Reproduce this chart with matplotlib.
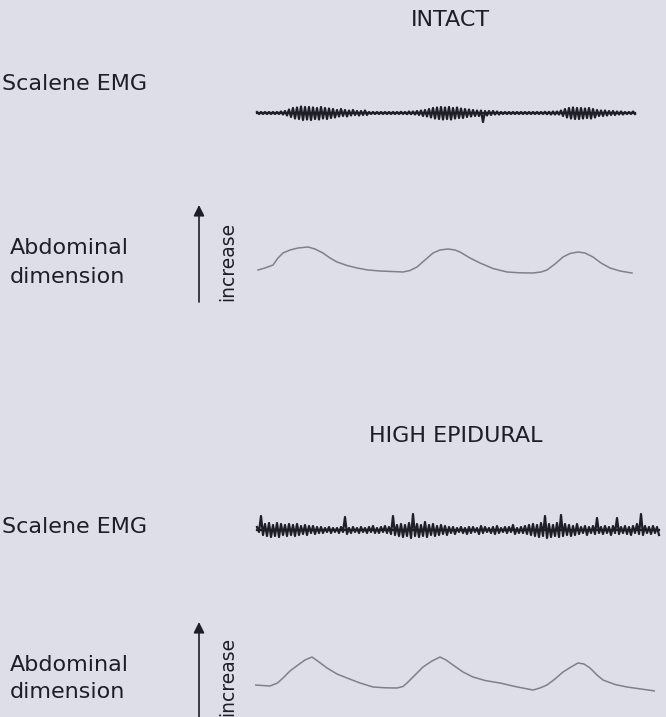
import numpy as np
import matplotlib
matplotlib.use("Agg")
import matplotlib.pyplot as plt

W, H = 666, 717
BG = "#dddee8"
INK = "#1e1e26"

# scalene EMG, intact: upper / lower excursion per sample (a.u.), 0.08 s apart
emg_intact_up = [1, 1, 1, 1, 1, 1, 1.5, 2, 3.5, 5, 5.5, 6.5, 6, 6, 5.5, 5, 6, 5, 4.5, 4,
                 3, 4, 3, 2.5, 3, 2, 2, 2.5, 1, 1, 1, 1, 1, 1, 1, 1, 1.2, 1, 1.5, 1.5,
                 2, 2.5, 3, 4, 5, 5.5, 6, 5.5, 6, 5, 5.5, 4.5, 4, 3.5, 3, 2.5, 2.5, 2, 2, 2,
                 1.5, 1, 1, 1, 1, 1, 1, 1, 1, 1, 1, 1, 1.2, 1.2, 1.5, 1.5, 2.5, 4, 5, 5.5,
                 5, 5, 4.5, 5, 4, 3, 2.5, 2.5, 2, 2, 1.5, 1.5, 1, 1, 1.5]
emg_intact_lo = [1, 1, 1, 1, 1, 1, 1.5, 2.5, 4, 5.5, 6, 7, 6.5, 7, 6, 6.5, 5.5, 6, 5, 4.5,
                 3.5, 3, 3.5, 2.5, 2, 2.5, 2, 2, 1, 1, 1, 1, 1, 1, 1, 1, 1, 1.2, 1.2, 1.5,
                 2, 3, 3.5, 4.5, 5.5, 6, 6.5, 6, 6.5, 5.5, 5, 5, 4, 3.5, 3, 3, 9, 2.5, 2, 1.5,
                 1.5, 1, 1, 1, 1, 1, 1, 1, 1, 1, 1, 1, 1.2, 1.5, 1.5, 1.5, 3, 4.5, 5.5, 6,
                 6, 5.5, 5, 5.5, 4.5, 3, 3, 2.5, 2, 2, 1.5, 1.5, 1, 1, 1]

# scalene EMG, high epidural
emg_epi_up = [3, 14, 6, 7, 5, 7, 6, 5, 6, 5, 6, 4, 5, 4, 4, 3, 3, 2, 3, 2,
              2, 3, 13, 2, 3, 2, 3, 2, 3, 4, 2, 3, 4, 3, 14, 5, 6, 5, 7, 16,
              6, 5, 8, 5, 6, 4, 5, 4, 3, 3, 2, 3, 2, 3, 3, 2, 4, 3, 2, 3,
              4, 2, 3, 3, 5, 2, 3, 4, 5, 6, 5, 7, 14, 6, 5, 7, 15, 6, 5, 4,
              6, 3, 4, 3, 4, 12, 3, 4, 3, 4, 12, 3, 4, 3, 4, 6, 16, 4, 3, 4, 3]
emg_epi_lo = [2, 5, 6, 7, 6, 7, 5, 6, 5, 6, 5, 4, 5, 3, 4, 3, 3, 2, 3, 2,
              3, 2, 4, 3, 2, 3, 2, 3, 2, 3, 3, 2, 3, 4, 5, 6, 7, 6, 8, 6,
              7, 6, 7, 5, 6, 5, 4, 5, 3, 4, 2, 3, 4, 3, 2, 4, 3, 2, 3, 4,
              3, 2, 3, 2, 4, 3, 3, 4, 5, 6, 7, 6, 8, 7, 6, 7, 6, 5, 6, 5,
              4, 3, 5, 3, 4, 3, 4, 3, 5, 3, 4, 3, 4, 5, 3, 4, 5, 3, 4, 3, 5]

# abdominal dimension (time s, a.u.)
abd_intact_t = [0.06, 0.2, 0.36, 0.46, 0.56, 0.7, 0.86, 1.06, 1.2, 1.36, 1.5, 1.64, 1.84,
                2.04, 2.26, 2.5, 2.74, 2.96, 3.1, 3.24, 3.4, 3.56, 3.7, 3.86, 4.0, 4.1,
                4.3, 4.5, 4.76, 5.04, 5.3, 5.56, 5.72, 5.84, 6.0, 6.16, 6.3, 6.46, 6.6,
                6.76, 6.92, 7.1, 7.3, 7.54]
abd_intact_v = [1.0, 1.2, 1.5, 2.2, 2.7, 3.0, 3.2, 3.3, 3.1, 2.7, 2.2, 1.8, 1.45,
                1.2, 1.0, 0.9, 0.85, 0.8, 0.95, 1.3, 2.0, 2.7, 3.0, 3.1, 3.0, 2.8,
                2.2, 1.7, 1.15, 0.8, 0.72, 0.7, 0.8, 1.0, 1.6, 2.3, 2.65, 2.8, 2.7,
                2.3, 1.7, 1.2, 0.9, 0.7]
abd_epi_t = [0.0, 0.3, 0.45, 0.56, 0.7, 0.86, 1.0, 1.14, 1.28, 1.44, 1.64, 1.84, 2.1,
             2.36, 2.6, 2.84, 2.96, 3.04, 3.2, 3.36, 3.54, 3.7, 3.82, 3.96, 4.16,
             4.36, 4.6, 4.9, 5.2, 5.56, 5.7, 5.84, 6.0, 6.16, 6.32, 6.46, 6.58, 6.7,
             6.84, 6.96, 7.2, 7.44, 7.72, 8.0]
abd_epi_v = [1.0, 0.9, 1.2, 1.7, 2.4, 3.0, 3.5, 3.8, 3.3, 2.7, 2.1, 1.7, 1.2,
             0.8, 0.72, 0.7, 0.85, 1.2, 2.0, 2.8, 3.4, 3.8, 3.5, 3.0, 2.3,
             1.8, 1.45, 1.2, 0.85, 0.5, 0.7, 1.0, 1.6, 2.3, 2.8, 3.2, 3.1, 2.7,
             2.0, 1.5, 1.05, 0.8, 0.6, 0.4]

EMG_DT = 0.08


def px_axes(fig, x0, y0, x1, y1):
    ax = fig.add_axes([x0 / W, 1 - y1 / H, (x1 - x0) / W, (y1 - y0) / H])
    ax.set_axis_off()
    ax.patch.set_alpha(0)
    return ax


def draw_emg(ax, up, lo):
    # raw trace swings up then down within each sample interval
    assert len(up) == len(lo)
    n = len(up)
    t = 0.04 + EMG_DT / 2 * np.arange(2 * n)
    y = np.empty(2 * n)
    y[0::2] = up
    y[1::2] = -np.array(lo)
    ax.plot(t, np.zeros_like(t), color=INK, lw=1.6, clip_on=False)
    ax.plot(t, y, color=INK, lw=1.6, clip_on=False)
    ax.set_xlim(0, 8)
    ax.set_ylim(-15, 15)


fig = plt.figure(figsize=(W / 100, H / 100), dpi=100, facecolor=BG)

canvas = fig.add_axes([0, 0, 1, 1])
canvas.set_xlim(0, W)
canvas.set_ylim(H, 0)
canvas.set_axis_off()
canvas.patch.set_alpha(0)

lab = dict(fontsize=16, color=INK, family="DejaVu Sans")

canvas.text(450, 20, "INTACT", ha="center", va="center", **lab)
canvas.text(2, 84, "Scalene EMG", ha="left", va="center", **lab)
canvas.text(10, 248, "Abdominal", ha="left", va="center", **lab)
canvas.text(10, 277, "dimension", ha="left", va="center", **lab)

canvas.text(456, 436, "HIGH EPIDURAL", ha="center", va="center", **lab)
canvas.text(2, 527, "Scalene EMG", ha="left", va="center", **lab)
canvas.text(10, 665, "Abdominal", ha="left", va="center", **lab)
canvas.text(10, 692, "dimension", ha="left", va="center", **lab)

for tip, base, txt_y in [(205, 302, 261), (622, 730, 676)]:
    canvas.annotate("", xy=(199, tip), xytext=(199, base),
                    arrowprops=dict(arrowstyle="-|>", color=INK, lw=1.2,
                                    mutation_scale=16, shrinkA=0, shrinkB=0))
    canvas.text(228, txt_y, "increase", rotation=90, ha="center", va="center",
                fontsize=13.5, color=INK, family="DejaVu Sans")

ax = px_axes(fig, 255, 98, 655, 128)
draw_emg(ax, emg_intact_up, emg_intact_lo)

ax = px_axes(fig, 255, 515, 655, 545)
draw_emg(ax, emg_epi_up, emg_epi_lo)

ax = px_axes(fig, 255, 240, 655, 280)
ax.plot(abd_intact_t, abd_intact_v, color="#808088", lw=1.1)
ax.set_xlim(0, 8)
ax.set_ylim(0, 4)

ax = px_axes(fig, 255, 650, 655, 695)
ax.plot(abd_epi_t, abd_epi_v, color="#808088", lw=1.1)
ax.set_xlim(0, 8)
ax.set_ylim(0, 4.5)

fig.savefig("out.png", dpi=100, facecolor=BG)
